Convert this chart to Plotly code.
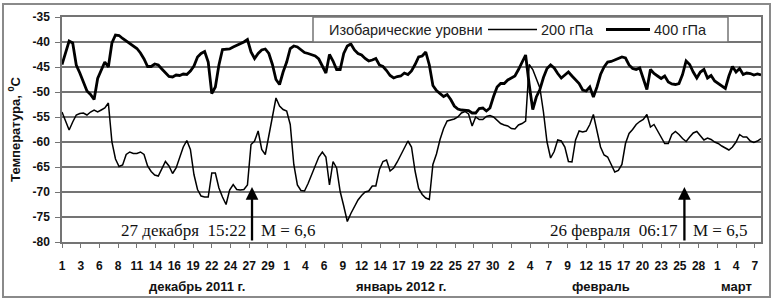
import pandas as pd
import plotly.graph_objects as go

# ---------------- data ----------------
START = "2011-12-01"

# 400 hPa, every 12 hours from 1 Dec 2011 00:00
t400 = [
    -44.5, -42.0, -39.8, -40.2, -44.6, -46.2, -48.0, -49.8, -50.5, -51.5,
    -47.3, -45.6, -44.0, -45.0, -40.2, -38.6, -38.7, -39.3, -39.8, -40.3,
    -40.8, -41.3, -42.2, -43.4, -44.9, -44.9, -44.4, -44.6, -45.4, -46.2,
    -46.9, -47.0, -46.6, -46.7, -46.4, -46.5, -45.8, -44.8, -43.0, -42.3,
    -41.9, -44.0, -50.3, -49.0, -44.6, -41.5, -41.4, -41.4, -41.0, -40.7,
    -40.3, -40.0, -39.5, -42.0, -43.3, -42.3, -41.6, -41.4, -42.3, -44.5,
    -47.5, -48.5, -46.0, -44.0, -41.3, -40.8, -41.0, -41.5, -42.1, -42.3,
    -42.5, -42.8, -43.4, -44.7, -46.2, -42.5, -43.8, -45.5, -45.5, -42.3,
    -40.8, -40.4, -41.6, -42.3, -42.6, -43.3, -43.8, -43.6, -43.3, -44.6,
    -44.9, -45.7, -46.7, -47.2, -46.9, -46.8, -46.2, -46.5, -45.8, -44.5,
    -43.0, -42.8, -42.0, -44.6, -48.7, -49.7, -50.4, -50.9, -50.5, -51.5,
    -52.8, -53.4, -53.6, -53.6, -53.7, -54.2, -54.2, -53.3, -53.2, -53.8,
    -53.2, -50.9, -49.0, -48.3, -48.3, -47.6, -47.2, -46.8, -45.5, -44.0,
    -42.6, -48.5, -53.5, -51.0, -49.5, -47.1, -45.3, -44.6, -45.2, -46.3,
    -47.2, -46.6, -46.0, -46.8, -47.6, -48.3, -49.6, -49.8, -49.0, -51.0,
    -49.0, -46.5, -45.0, -44.0, -43.9, -43.6, -43.3, -43.0, -43.2, -44.6,
    -45.3, -45.5, -45.2, -47.5, -49.5, -45.5, -46.3, -46.8, -47.3, -46.8,
    -48.0, -48.4, -48.5, -48.3, -46.5, -43.8, -44.5, -46.0, -47.2, -46.0,
    -45.5, -47.2, -46.7, -47.8, -48.3, -48.8, -49.3, -46.8, -44.9, -46.0,
    -45.3, -46.5, -46.2, -46.3, -46.6, -46.4, -46.6,
]

# 200 hPa, every 12 hours from 1 Dec 2011 00:00
t200 = [
    -54.0, -56.0, -57.6, -56.0, -54.6, -54.3, -54.2, -54.6, -54.0, -53.6,
    -54.0, -53.6, -53.2, -52.2, -60.0, -63.4, -64.9, -64.6, -62.5, -62.0,
    -62.3, -62.3, -62.0, -62.5, -64.8, -65.9, -66.6, -66.8, -65.5, -63.9,
    -64.8, -66.3, -65.2, -63.0, -61.0, -59.7, -61.5, -66.5, -69.5, -70.8,
    -71.0, -71.0, -66.2, -66.2, -69.2, -71.0, -72.5, -69.6, -68.5, -69.5,
    -69.6, -69.5, -68.6, -60.5, -59.8, -57.8, -61.5, -62.5, -58.8, -55.5,
    -51.2, -52.8, -53.5, -53.8, -56.5, -64.5, -68.6, -69.7, -69.8, -68.3,
    -66.4, -64.7, -63.0, -62.0, -63.0, -68.6, -63.9, -65.2, -69.9, -72.8,
    -75.9, -74.3, -72.8, -71.6, -70.7, -70.0, -69.8, -68.8, -68.8, -65.5,
    -63.9, -63.6, -65.8, -65.2, -64.0, -62.5, -61.3, -59.8, -61.0, -65.8,
    -69.3, -70.5, -71.2, -71.5, -64.5, -62.4, -59.5, -57.3, -55.8, -55.6,
    -55.4, -55.0, -54.2, -53.9, -54.4, -56.8, -55.0, -55.5, -55.5, -54.9,
    -54.7, -55.0, -55.6, -56.3, -56.6, -56.8, -57.3, -57.4, -56.6, -56.3,
    -55.8, -44.5, -45.5, -47.2, -49.2, -54.0, -60.0, -63.2, -61.9, -59.6,
    -59.8, -61.0, -63.9, -64.0, -59.6, -57.8, -58.0, -57.8, -56.5, -54.5,
    -57.6, -61.0, -62.6, -63.0, -64.5, -66.0, -65.7, -64.5, -60.3, -58.3,
    -57.5, -56.5, -55.9, -55.5, -54.5, -57.0, -56.5, -57.8, -59.2, -60.3,
    -60.3, -58.5, -57.9, -58.5, -59.3, -59.9, -59.0, -58.2, -57.9, -58.8,
    -59.6, -59.2, -59.5, -60.0, -60.3, -60.8, -61.2, -61.6, -61.0, -60.0,
    -58.5, -59.0, -59.0, -59.8, -60.1, -59.8, -59.3,
]

times = pd.date_range(START, periods=len(t400), freq="12h")

tick_labels = ["1", "3", "6", "8", "11", "14", "16", "19", "22", "24", "27", "29",
               "1", "4", "6", "9", "12", "14", "17", "19", "22", "25", "27", "30",
               "2", "4", "7", "9", "12", "15", "17", "20", "23", "25", "28",
               "1", "4", "7"]
tick_dates = pd.date_range(START, periods=len(tick_labels), freq="63h")

y_ticks = [-80, -75, -70, -65, -60, -55, -50, -45, -40, -35]
y_tick_labels = ["-80", "-75", "-70", "-65", "-60", "-55", "-50", "-45", "-40", "-35"]

month_labels = ["декабрь 2011 г.", "январь 2012 г.", "февраль", "март"]
month_pos = ["2011-12-19 22:00", "2012-01-17 14:00", "2012-02-14 14:00", "2012-03-04 12:00"]

events = ["2011-12-27 15:22", "2012-02-26 06:17"]
event_text = ["27 декабря&nbsp;&nbsp;15:22", "26 февраля&nbsp;&nbsp;06:17"]
magnitudes = ["M = 6,6", "M = 6,5"]

legend_title = "Изобарические уровни"
series_names = ["200 гПа", "400 гПа"]

# ---------------- figure ----------------
SANS = "Liberation Sans, Arial, sans-serif"
SERIF = "Liberation Serif, Times New Roman, serif"
GRID = "#747474"
W200, W400 = 1.5, 2.8
ARROW_BASE, ARROW_TIP = -80, -69.0

L, R, T, B = 62, 14, 17, 60
PW = 775 - L - R


def px_to_paper(px):
    return (px - L) / PW


bold12 = dict(family=SANS, size=12, color="#111", weight="bold")
bold13 = dict(family=SANS, size=13, color="#111", weight="bold")

fig = go.Figure()
fig.add_trace(go.Scatter(x=times, y=t200, mode="lines", name=series_names[0],
                         line=dict(color="black", width=W200), showlegend=False))
fig.add_trace(go.Scatter(x=times, y=t400, mode="lines", name=series_names[1],
                         line=dict(color="black", width=W400), showlegend=False))

annotations = []
for lab, pos in zip(month_labels, month_pos):
    annotations.append(dict(x=pos, xref="x", y=-0.196, yref="paper", text=lab,
                            showarrow=False, xanchor="center", yanchor="middle",
                            font=bold13))
for ev, txt, mag in zip(events, event_text, magnitudes):
    annotations.append(dict(x=ev, xref="x", y=-77.6, yref="y", text=txt,
                            showarrow=False, xanchor="right", yanchor="middle",
                            xshift=-4, font=dict(family=SERIF, size=17, color="#111")))
    annotations.append(dict(x=ev, xref="x", y=-77.6, yref="y", text=mag,
                            showarrow=False, xanchor="left", yanchor="middle",
                            xshift=7, font=dict(family=SERIF, size=17, color="#111")))
    # earthquake arrow
    annotations.append(dict(x=ev, xref="x", y=ARROW_TIP, yref="y", ax=ev, axref="x",
                            ay=ARROW_BASE, ayref="y", showarrow=True, arrowhead=2,
                            arrowsize=1.1, arrowwidth=2.3, arrowcolor="black", text=""))

# hand-built legend box (sits between the -35 and -40 grid lines)
LEG_Y = -37.5
leg_font = dict(family=SANS, size=14.5, color="#222")
annotations += [
    dict(x=px_to_paper(327), xref="paper", y=LEG_Y, yref="y", text=legend_title,
         showarrow=False, xanchor="left", yanchor="middle", font=leg_font),
    dict(x=px_to_paper(539), xref="paper", y=LEG_Y, yref="y", text=series_names[0],
         showarrow=False, xanchor="left", yanchor="middle", font=leg_font),
    dict(x=px_to_paper(652), xref="paper", y=LEG_Y, yref="y", text=series_names[1],
         showarrow=False, xanchor="left", yanchor="middle", font=leg_font),
]
shapes = [
    dict(type="rect", xref="paper", yref="paper",
         x0=px_to_paper(3), x1=px_to_paper(770), y0=(T + 225 - 297) / 225, y1=(T + 225 - 4) / 225,
         line=dict(color="#8a8a8a", width=2), fillcolor="rgba(0,0,0,0)", layer="below"),
    dict(type="rect", xref="paper", yref="y", x0=px_to_paper(313), x1=px_to_paper(728),
         y0=-40, y1=-35, line=dict(color=GRID, width=1.5), fillcolor="white", layer="above"),
    dict(type="line", xref="paper", yref="y", x0=px_to_paper(488), x1=px_to_paper(537),
         y0=LEG_Y, y1=LEG_Y, line=dict(color="black", width=W200)),
    dict(type="line", xref="paper", yref="y", x0=px_to_paper(606), x1=px_to_paper(650),
         y0=LEG_Y, y1=LEG_Y, line=dict(color="black", width=W400)),
]

fig.update_layout(
    width=775, height=302,
    margin=dict(l=L, r=R, t=T, b=B),
    paper_bgcolor="white", plot_bgcolor="white",
    font=dict(family=SANS, size=12, color="#111"),
    showlegend=False,
    annotations=annotations,
    shapes=shapes,
)

fig.update_xaxes(type="date", range=[START, "2012-03-08"],
                 tickvals=tick_dates, ticktext=tick_labels,
                 ticks="outside", ticklen=4, tickcolor=GRID, tickwidth=1,
                 showgrid=False, showline=True, linecolor=GRID, linewidth=1.5,
                 mirror=True, ticklabelstandoff=8, automargin=False,
                 tickfont=bold12)
fig.update_yaxes(range=[-80, -35], tickvals=y_ticks, ticktext=y_tick_labels,
                 ticks="outside", ticklen=5, tickcolor=GRID,
                 showgrid=True, gridcolor=GRID, gridwidth=1.5,
                 showline=True, linecolor=GRID, linewidth=1.5, mirror=True,
                 zeroline=False, automargin=False, ticklabelstandoff=3,
                 tickfont=bold12,
                 title=dict(text="Температура, <sup>0</sup>C", standoff=9, font=bold13))

fig.write_html("out.html", config={"displayModeBar": False},
               post_script="document.body.style.margin='0';document.body.style.padding='0';")
